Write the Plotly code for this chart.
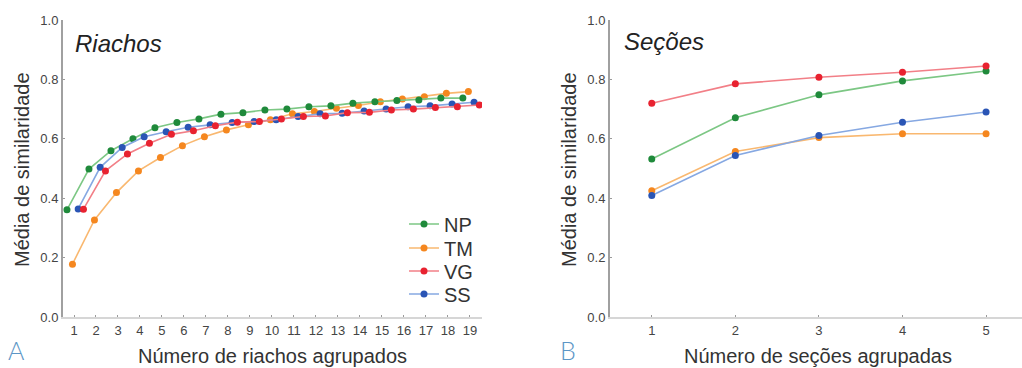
import plotly.graph_objects as go

# ---------------- data ----------------
series_names = ["NP", "TM", "VG", "SS"]

riachos_n = list(range(1, 20))
riachos_NP = [0.361, 0.498, 0.560, 0.600, 0.637, 0.655, 0.667, 0.683, 0.688, 0.697,
              0.700, 0.708, 0.711, 0.720, 0.725, 0.729, 0.731, 0.737, 0.737]
riachos_TM = [0.178, 0.327, 0.419, 0.492, 0.537, 0.577, 0.607, 0.630, 0.647, 0.664,
              0.684, 0.692, 0.703, 0.712, 0.725, 0.734, 0.742, 0.753, 0.759]
riachos_VG = [0.363, 0.492, 0.549, 0.585, 0.615, 0.627, 0.644, 0.656, 0.658, 0.667,
              0.675, 0.677, 0.688, 0.689, 0.697, 0.700, 0.705, 0.708, 0.714]
riachos_SS = [0.364, 0.504, 0.571, 0.607, 0.624, 0.639, 0.647, 0.655, 0.658, 0.664,
              0.675, 0.684, 0.686, 0.694, 0.700, 0.708, 0.711, 0.717, 0.723]

secoes_n = [1, 2, 3, 4, 5]
secoes_NP = [0.532, 0.671, 0.748, 0.795, 0.828]
secoes_TM = [0.425, 0.557, 0.604, 0.617, 0.617]
secoes_VG = [0.720, 0.785, 0.807, 0.824, 0.845]
secoes_SS = [0.409, 0.544, 0.611, 0.656, 0.690]

y_ticks = [0.0, 0.2, 0.4, 0.6, 0.8, 1.0]

# ---------------- styles ----------------
marker_colors = {"NP": "#1f8a3b", "TM": "#f5871f", "VG": "#e82230", "SS": "#2a55b5"}
line_colors = {"NP": "#7cc784", "TM": "#f9b870", "VG": "#f27f87", "SS": "#86a8e2"}
x_shift = {"NP": -0.32, "TM": -0.07, "VG": 0.43, "SS": 0.19}

riachos = {"NP": riachos_NP, "TM": riachos_TM, "VG": riachos_VG, "SS": riachos_SS}
secoes = {"NP": secoes_NP, "TM": secoes_TM, "VG": secoes_VG, "SS": secoes_SS}

W, H = 1022, 368
FONT = "Liberation Sans"


def px_x(p):
    return p / W


def px_y(p):
    return 1 - p / H


fig = go.Figure()

draw_order = ["TM", "NP", "SS", "VG"]
legend_ids = {"NP": "legend", "TM": "legend2", "VG": "legend3", "SS": "legend4"}
legend_centers = {"legend": 224, "legend2": 248, "legend3": 271, "legend4": 294}

for name in draw_order:
    fig.add_trace(go.Scatter(
        x=[n + x_shift[name] for n in riachos_n], y=riachos[name],
        mode="lines+markers", name=name, legend=legend_ids[name],
        line=dict(color=line_colors[name], width=1.6),
        marker=dict(color=marker_colors[name], size=7, symbol="circle"),
        xaxis="x", yaxis="y", showlegend=True,
    ))

for name in draw_order:
    fig.add_trace(go.Scatter(
        x=secoes_n, y=secoes[name],
        mode="lines+markers", name=name,
        line=dict(color=line_colors[name], width=1.6),
        marker=dict(color=marker_colors[name], size=7, symbol="circle"),
        xaxis="x2", yaxis="y2", showlegend=False,
    ))

ydom = [px_y(317), px_y(20)]

tickfont = dict(family=FONT, size=13, color="#444444")
xaxis_style = dict(showgrid=False, zeroline=False, ticks="inside", ticklen=2, tickwidth=1,
                   tickcolor="#9a9a9a", tickfont=tickfont, showline=True,
                   linecolor="#d6d6d6", linewidth=2)
yaxis_style = dict(showgrid=False, zeroline=False, ticks="inside", ticklen=2, tickwidth=1,
                   tickcolor="#9a9a9a", tickfont=tickfont, showline=True,
                   linecolor="#a0a0a0", linewidth=2)

legend_layout = {}
for lid, cy in legend_centers.items():
    legend_layout[lid] = dict(x=px_x(404), y=px_y(cy), xanchor="left", yanchor="middle",
                              bgcolor="rgba(0,0,0,0)", itemwidth=30,
                              font=dict(family=FONT, size=20, color="#333333"))

fig.update_layout(
    width=W, height=H,
    margin=dict(l=0, r=0, t=0, b=0, autoexpand=False),
    paper_bgcolor="white", plot_bgcolor="white",
    font=dict(family=FONT, color="#333333"),
    xaxis=dict(domain=[px_x(63), px_x(482)], range=[0.5, 19.55], anchor="y",
               tickmode="array", tickvals=riachos_n, ticktext=[str(n) for n in riachos_n],
               **xaxis_style),
    yaxis=dict(domain=ydom, range=[0, 1.0], anchor="x",
               tickmode="array", tickvals=y_ticks, ticktext=[f"{v:.1f}" for v in y_ticks],
               **yaxis_style),
    xaxis2=dict(domain=[px_x(610), 1.0], range=[0.5, 5.43], anchor="y2",
                tickmode="array", tickvals=secoes_n, ticktext=[str(n) for n in secoes_n],
                **xaxis_style),
    yaxis2=dict(domain=ydom, range=[0, 1.0], anchor="x2",
                tickmode="array", tickvals=y_ticks, ticktext=[f"{v:.1f}" for v in y_ticks],
                **yaxis_style),
    showlegend=True,
    **legend_layout,
)

title_font = dict(family=FONT, size=20, color="#333333")
ann = []
# axis titles
ann.append(dict(text="Número de riachos agrupados", x=px_x(272), y=px_y(356),
                xanchor="center", yanchor="middle",
                xref="paper", yref="paper", showarrow=False, font=title_font))
ann.append(dict(text="Número de seções agrupadas", x=px_x(818), y=px_y(356),
                xanchor="center", yanchor="middle",
                xref="paper", yref="paper", showarrow=False, font=title_font))
ann.append(dict(text="Média de similaridade", x=px_x(22), y=px_y(170),
                xanchor="center", yanchor="middle", textangle=-90,
                xref="paper", yref="paper", showarrow=False, font=title_font))
ann.append(dict(text="Média de similaridade", x=px_x(569), y=px_y(170),
                xanchor="center", yanchor="middle", textangle=-90,
                xref="paper", yref="paper", showarrow=False, font=title_font))
# panel titles
ann.append(dict(text="<i>Riachos</i>", x=px_x(73), y=px_y(43),
                xanchor="left", yanchor="middle",
                xref="paper", yref="paper", showarrow=False,
                font=dict(family=FONT, size=24, color="#222222")))
ann.append(dict(text="<i>Seções</i>", x=px_x(622), y=px_y(42),
                xanchor="left", yanchor="middle",
                xref="paper", yref="paper", showarrow=False,
                font=dict(family=FONT, size=24, color="#222222")))
# panel letters
ann.append(dict(text="A", x=px_x(6), y=px_y(350), xanchor="left", yanchor="middle",
                xref="paper", yref="paper", showarrow=False,
                font=dict(family="Lato", size=25, color="#5c96c6", weight=300)))
ann.append(dict(text="B", x=px_x(558), y=px_y(350), xanchor="left", yanchor="middle",
                xref="paper", yref="paper", showarrow=False,
                font=dict(family="Lato", size=25, color="#5c96c6", weight=300)))

fig.update_layout(annotations=ann)

fig.write_html("out.html")
